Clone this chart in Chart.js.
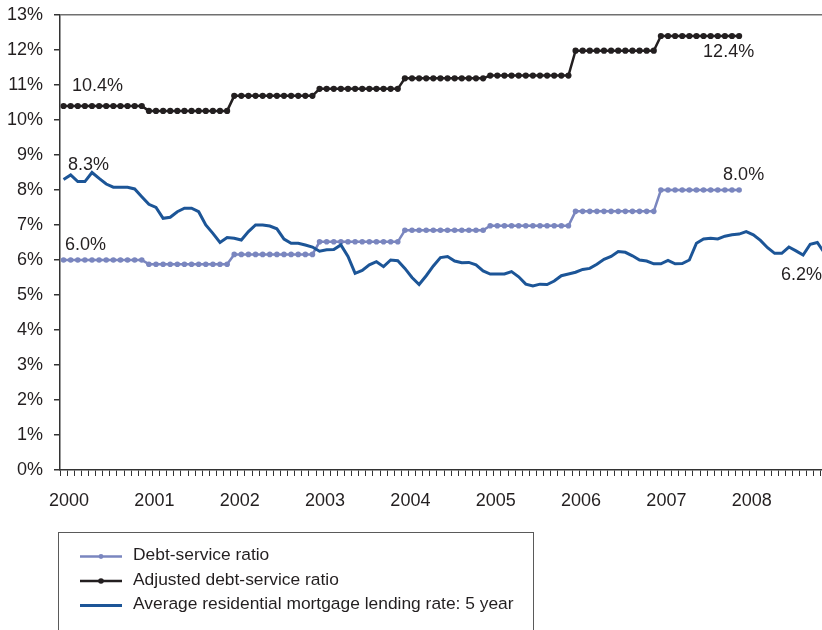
<!DOCTYPE html>
<html>
<head>
<meta charset="utf-8">
<script src="https://cdn.jsdelivr.net/npm/chart.js@4/dist/chart.umd.min.js"></script>
<style>
  html, body { margin: 0; padding: 0; overflow: hidden; background: #ffffff; }
  #wrap { position: relative; width: 836px; height: 630px; }
</style>
</head>
<body>
<div id="wrap"><canvas id="chart" width="836" height="630"></canvas></div>
<script>
// Year tick labels and month names used to build the monthly categories
const years = ['2000', '2001', '2002', '2003', '2004', '2005', '2006', '2007', '2008'];
const monthNames = ['Jan', 'Feb', 'Mar', 'Apr', 'May', 'Jun', 'Jul', 'Aug', 'Sep', 'Oct', 'Nov', 'Dec'];
const categories = years.flatMap(y => monthNames.map(m => m + ' ' + y));

// Debt-service ratio (%), monthly, 2000–2007
const debtServiceRatio = [
  6.0, 6.0, 6.0, 6.0, 6.0, 6.0, 6.0, 6.0, 6.0, 6.0, 6.0, 6.0,
  5.88, 5.88, 5.88, 5.88, 5.88, 5.88, 5.88, 5.88, 5.88, 5.88, 5.88, 5.88,
  6.16, 6.16, 6.16, 6.16, 6.16, 6.16, 6.16, 6.16, 6.16, 6.16, 6.16, 6.16,
  6.52, 6.52, 6.52, 6.52, 6.52, 6.52, 6.52, 6.52, 6.52, 6.52, 6.52, 6.52,
  6.85, 6.85, 6.85, 6.85, 6.85, 6.85, 6.85, 6.85, 6.85, 6.85, 6.85, 6.85,
  6.98, 6.98, 6.98, 6.98, 6.98, 6.98, 6.98, 6.98, 6.98, 6.98, 6.98, 6.98,
  7.39, 7.39, 7.39, 7.39, 7.39, 7.39, 7.39, 7.39, 7.39, 7.39, 7.39, 7.39,
  8.0, 8.0, 8.0, 8.0, 8.0, 8.0, 8.0, 8.0, 8.0, 8.0, 8.0, 8.0
];

// Adjusted debt-service ratio (%), monthly, 2000–2007
const adjustedDebtServiceRatio = [
  10.4, 10.4, 10.4, 10.4, 10.4, 10.4, 10.4, 10.4, 10.4, 10.4, 10.4, 10.4,
  10.26, 10.26, 10.26, 10.26, 10.26, 10.26, 10.26, 10.26, 10.26, 10.26, 10.26, 10.26,
  10.69, 10.69, 10.69, 10.69, 10.69, 10.69, 10.69, 10.69, 10.69, 10.69, 10.69, 10.69,
  10.89, 10.89, 10.89, 10.89, 10.89, 10.89, 10.89, 10.89, 10.89, 10.89, 10.89, 10.89,
  11.19, 11.19, 11.19, 11.19, 11.19, 11.19, 11.19, 11.19, 11.19, 11.19, 11.19, 11.19,
  11.27, 11.27, 11.27, 11.27, 11.27, 11.27, 11.27, 11.27, 11.27, 11.27, 11.27, 11.27,
  11.98, 11.98, 11.98, 11.98, 11.98, 11.98, 11.98, 11.98, 11.98, 11.98, 11.98, 11.98,
  12.4, 12.4, 12.4, 12.4, 12.4, 12.4, 12.4, 12.4, 12.4, 12.4, 12.4, 12.4
];

// Average residential mortgage lending rate, 5 year (%), monthly, 2000–2008
const mortgageRate5y = [
  8.3, 8.43, 8.24, 8.24, 8.5, 8.33, 8.17, 8.08, 8.08, 8.08, 8.03, 7.81,
  7.59, 7.5, 7.19, 7.22, 7.38, 7.48, 7.48, 7.38, 7.0, 6.76, 6.5, 6.64,
  6.62, 6.57, 6.81, 7.0, 7.0, 6.97, 6.89, 6.6, 6.48, 6.48, 6.43, 6.37,
  6.25, 6.29, 6.3, 6.43, 6.1, 5.62, 5.7, 5.86, 5.95, 5.81, 6.0, 5.98,
  5.76, 5.5, 5.3, 5.55, 5.83, 6.07, 6.1, 5.97, 5.92, 5.93, 5.86, 5.69,
  5.6, 5.6, 5.6, 5.67, 5.52, 5.31, 5.26, 5.31, 5.3, 5.4, 5.55, 5.6,
  5.65, 5.73, 5.76, 5.88, 6.02, 6.1, 6.24, 6.22, 6.12, 6.0, 5.97, 5.89,
  5.89, 5.99, 5.89, 5.9, 6.0, 6.48, 6.6, 6.62, 6.6, 6.68, 6.72, 6.74,
  6.81, 6.72, 6.56, 6.35, 6.19, 6.19, 6.37, 6.26, 6.14, 6.45, 6.5, 6.2
];

const seriesNames = [
  'Debt-service ratio',
  'Adjusted debt-service ratio',
  'Average residential mortgage lending rate: 5 year'
];

const TEXT = '#231f20';
const C_DSR = '#7a86bf';
const C_ADJ = '#231f20';
const C_RATE = '#1c5597';
const FONT = "'Liberation Sans', Arial, Helvetica, sans-serif";

// Value callouts: dataset index, point index, offset from the point
const callouts = [
  { ds: 1, idx: 0, dx: 8.5, dy: -20 },
  { ds: 2, idx: 0, dx: 4.5, dy: -14.5 },
  { ds: 0, idx: 0, dx: 1.5, dy: -15 },
  { ds: 1, idx: 95, dx: -36, dy: 16.5 },
  { ds: 0, idx: 95, dx: -16, dy: -15 },
  { ds: 2, idx: 107, dx: -43.5, dy: 22 }
];

const calloutPlugin = {
  id: 'callouts',
  afterDatasetsDraw(chart) {
    const ctx = chart.ctx;
    ctx.save();
    ctx.font = '18px ' + FONT;
    ctx.fillStyle = TEXT;
    ctx.textAlign = 'left';
    ctx.textBaseline = 'middle';
    callouts.forEach(c => {
      const pt = chart.getDatasetMeta(c.ds).data[c.idx];
      const v = chart.data.datasets[c.ds].data[c.idx];
      ctx.fillText(v.toFixed(1) + '%', pt.x + c.dx, pt.y + c.dy);
    });
    ctx.restore();
  }
};

// Boxed legend below the plot
const boxLegendPlugin = {
  id: 'boxLegend',
  afterDraw(chart) {
    const ctx = chart.ctx;
    ctx.save();
    ctx.strokeStyle = '#5a5a5a';
    ctx.lineWidth = 1;
    ctx.strokeRect(58.5, 532.5, 475, 130);
    const rows = [556.5, 581, 605.5];
    const styles = [
      { color: C_DSR, width: 2.5, marker: 2.4 },
      { color: C_ADJ, width: 2.5, marker: 2.8 },
      { color: C_RATE, width: 3, marker: 0 }
    ];
    ctx.font = '17.4px ' + FONT;
    ctx.textBaseline = 'middle';
    ctx.textAlign = 'left';
    rows.forEach((y, i) => {
      const s = styles[i];
      ctx.strokeStyle = s.color;
      ctx.lineWidth = s.width;
      ctx.beginPath();
      ctx.moveTo(80, y);
      ctx.lineTo(122, y);
      ctx.stroke();
      if (s.marker) {
        ctx.fillStyle = s.color;
        ctx.beginPath();
        ctx.arc(101, y, s.marker, 0, Math.PI * 2);
        ctx.fill();
      }
      ctx.fillStyle = TEXT;
      ctx.fillText(seriesNames[i], 133, y - 1);
    });
    ctx.restore();
  }
};

new Chart(document.getElementById('chart'), {
  type: 'line',
  data: {
    labels: categories,
    datasets: [
      {
        label: seriesNames[0],
        data: debtServiceRatio,
        borderColor: C_DSR,
        backgroundColor: C_DSR,
        borderWidth: 2.5,
        pointRadius: 2.8,
        pointBorderWidth: 0,
        pointBackgroundColor: C_DSR,
        tension: 0,
        order: 2
      },
      {
        label: seriesNames[1],
        data: adjustedDebtServiceRatio,
        borderColor: C_ADJ,
        backgroundColor: C_ADJ,
        borderWidth: 2.5,
        pointRadius: 3.1,
        pointBorderWidth: 0,
        pointBackgroundColor: C_ADJ,
        tension: 0,
        order: 1
      },
      {
        label: seriesNames[2],
        data: mortgageRate5y,
        borderColor: C_RATE,
        backgroundColor: C_RATE,
        borderWidth: 3,
        pointRadius: 0,
        tension: 0,
        order: 0
      }
    ]
  },
  options: {
    responsive: false,
    animation: false,
    devicePixelRatio: 1,
    layout: { padding: { left: 0, right: 8, top: 15, bottom: 0 } },
    plugins: {
      legend: { display: false },
      tooltip: { enabled: false }
    },
    scales: {
      x: {
        type: 'category',
        offset: true,
        border: { display: true, color: '#333333', width: 1.5 },
        grid: {
          offset: true,
          drawOnChartArea: false,
          drawTicks: true,
          tickLength: 6,
          color: '#333333',
          lineWidth: 1
        },
        ticks: {
          autoSkip: false,
          maxRotation: 0,
          minRotation: 0,
          labelOffset: 5.5,
          padding: 14,
          color: TEXT,
          font: { family: FONT, size: 18 },
          callback: (val, idx) => (idx % 12 === 0 ? years[idx / 12] : '')
        },
        afterFit(scale) {
          scale.height = 160;
          scale.paddingLeft = 0;
          scale.paddingRight = 0;
        }
      },
      y: {
        min: 0,
        max: 13,
        border: { display: true, color: '#333333', width: 1.5 },
        grid: {
          drawTicks: true,
          tickLength: 6,
          color: ctx => (ctx.tick && ctx.tick.value === 13 ? '#707070' : 'rgba(0,0,0,0)'),
          lineWidth: 1.5,
          tickColor: '#333333'
        },
        ticks: {
          stepSize: 1,
          padding: 11,
          color: TEXT,
          font: { family: FONT, size: 18 },
          callback: v => v + '%'
        },
        afterFit(scale) {
          scale.width = 60;
          scale.paddingTop = 0;
          scale.paddingBottom = 0;
        }
      }
    }
  },
  plugins: [calloutPlugin, boxLegendPlugin]
});
</script>
</body>
</html>
